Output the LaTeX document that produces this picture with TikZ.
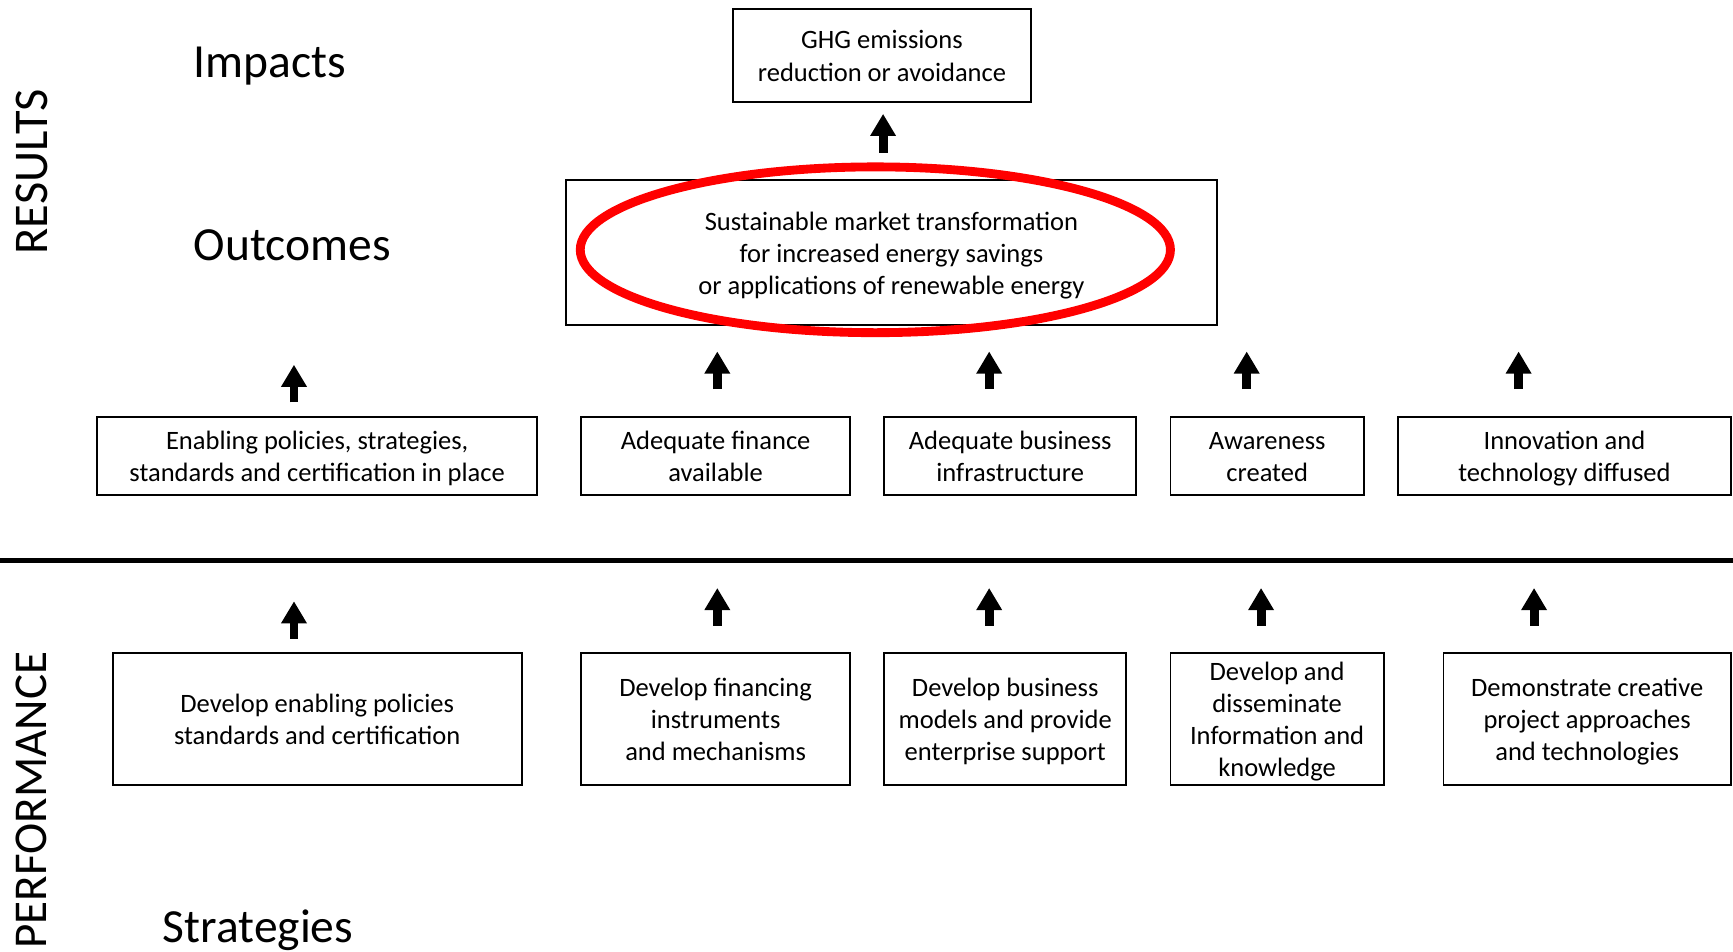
\documentclass[tikz,border=0pt]{standalone}
\usepackage{fontspec}
\setmainfont{Carlito}
\usetikzlibrary{arrows.meta}
\newcommand\boxtopstrut{\rule{0pt}{11.65pt}}
\newcommand\boxbotstrut{\rule[-2.85pt]{0pt}{0pt}}
\begin{document}
\begin{tikzpicture}[x=0.5pt,y=-0.5pt,
  box/.style={draw, line width=0.8pt, align=center, inner sep=0pt, font=\fontsize{12}{14.5}\selectfont},
  biglabel/.style={font=\fontsize{21.5}{26}\selectfont, inner sep=0pt},
  sidelabel/.style={inner sep=0pt, rotate=90},
  uparrow/.style={line width=4pt, -{Triangle[width=11pt,length=10pt]}},
  highlight/.style={draw=red, line width=4pt}]
\useasboundingbox (0,0) rectangle (1568,861);

% side and level labels
\node[sidelabel, font=\fontsize{21.9}{26}\selectfont] (results) at (28.5,155.5) {RESULTS};
\node[sidelabel, font=\fontsize{21.3}{26}\selectfont] (performance) at (28.5,724) {PERFORMANCE};
\node[biglabel, anchor=west] (impacts) at (175,60) {Impacts};
\node[biglabel, anchor=west] (outcomes) at (175,222) {Outcomes};
\node[biglabel, anchor=base west] (strategies) at (147,853) {Strategies};

% impact and outcome
\node[box, minimum width=135pt, minimum height=42pt] (ghg) at (798,50) {\boxtopstrut GHG emissions\\reduction or avoidance\boxbotstrut};
\node[box, minimum width=294.5pt, minimum height=65.5pt] (outc) at (806.5,228.5) {\boxtopstrut Sustainable market transformation\\for increased energy savings\\or applications of renewable energy\boxbotstrut};
\coordinate (hlc) at (792,226);
\draw[highlight] (hlc) ellipse [x radius=133.5pt, y radius=37.5pt];

% intermediate results
\node[box, minimum width=199pt, minimum height=35.5pt] (r1) at (287,412.5) {\boxtopstrut Enabling policies, strategies,\\standards and certification in place\boxbotstrut};
\node[box, minimum width=121.5pt, minimum height=35.5pt] (r2) at (647.5,412.5) {\boxtopstrut Adequate finance\\available\boxbotstrut};
\node[box, minimum width=114pt, minimum height=35.5pt] (r3) at (914,412.5) {\boxtopstrut Adequate business\\infrastructure\boxbotstrut};
\node[box, minimum width=87.5pt, minimum height=35.5pt] (r4) at (1146.5,412.5) {\boxtopstrut Awareness\\created\boxbotstrut};
\node[box, minimum width=150.5pt, minimum height=35.5pt] (r5) at (1415.5,412.5) {\boxtopstrut Innovation and\\technology diffused\boxbotstrut};

% divider
\coordinate (divL) at (0,507);
\coordinate (divR) at (1568,507);
\draw[line width=2.5pt] (divL) -- (divR);

% strategies
\node[box, minimum width=185pt, minimum height=59.5pt] (s1) at (287,650.5) {\boxtopstrut Develop enabling policies\\standards and certification\boxbotstrut};
\node[box, minimum width=121.5pt, minimum height=59.5pt] (s2) at (647.5,650.5) {\boxtopstrut Develop financing\\instruments\\and mechanisms\boxbotstrut};
\node[box, minimum width=109.5pt, minimum height=59.5pt] (s3) at (909.5,650.5) {\boxtopstrut Develop business\\models and provide\\enterprise support\boxbotstrut};
\node[box, minimum width=96.5pt, minimum height=59.5pt] (s4) at (1155.5,650.5) {\boxtopstrut Develop and\\disseminate\\Information and\\knowledge\boxbotstrut};
\node[box, minimum width=130pt, minimum height=59.5pt] (s5) at (1436,650.5) {\boxtopstrut Demonstrate creative\\project approaches\\and technologies\boxbotstrut};

% arrows
\coordinate (a0t) at (799,138); \coordinate (a0h) at (799,103);
\draw[uparrow] (a0t) -- (a0h);
\coordinate (a1t) at (266,364); \coordinate (a1h) at (266,330);
\draw[uparrow] (a1t) -- (a1h);
\foreach \n/\x in {2/649,3/895,4/1128,5/1374}{
  \coordinate (a\n t) at (\x,352); \coordinate (a\n h) at (\x,318);
  \draw[uparrow] (a\n t) -- (a\n h);
}
\coordinate (b1t) at (266,578); \coordinate (b1h) at (266,544);
\draw[uparrow] (b1t) -- (b1h);
\foreach \n/\x in {2/649,3/895,4/1141,5/1388}{
  \coordinate (b\n t) at (\x,566); \coordinate (b\n h) at (\x,532);
  \draw[uparrow] (b\n t) -- (b\n h);
}
\end{tikzpicture}
\end{document}
